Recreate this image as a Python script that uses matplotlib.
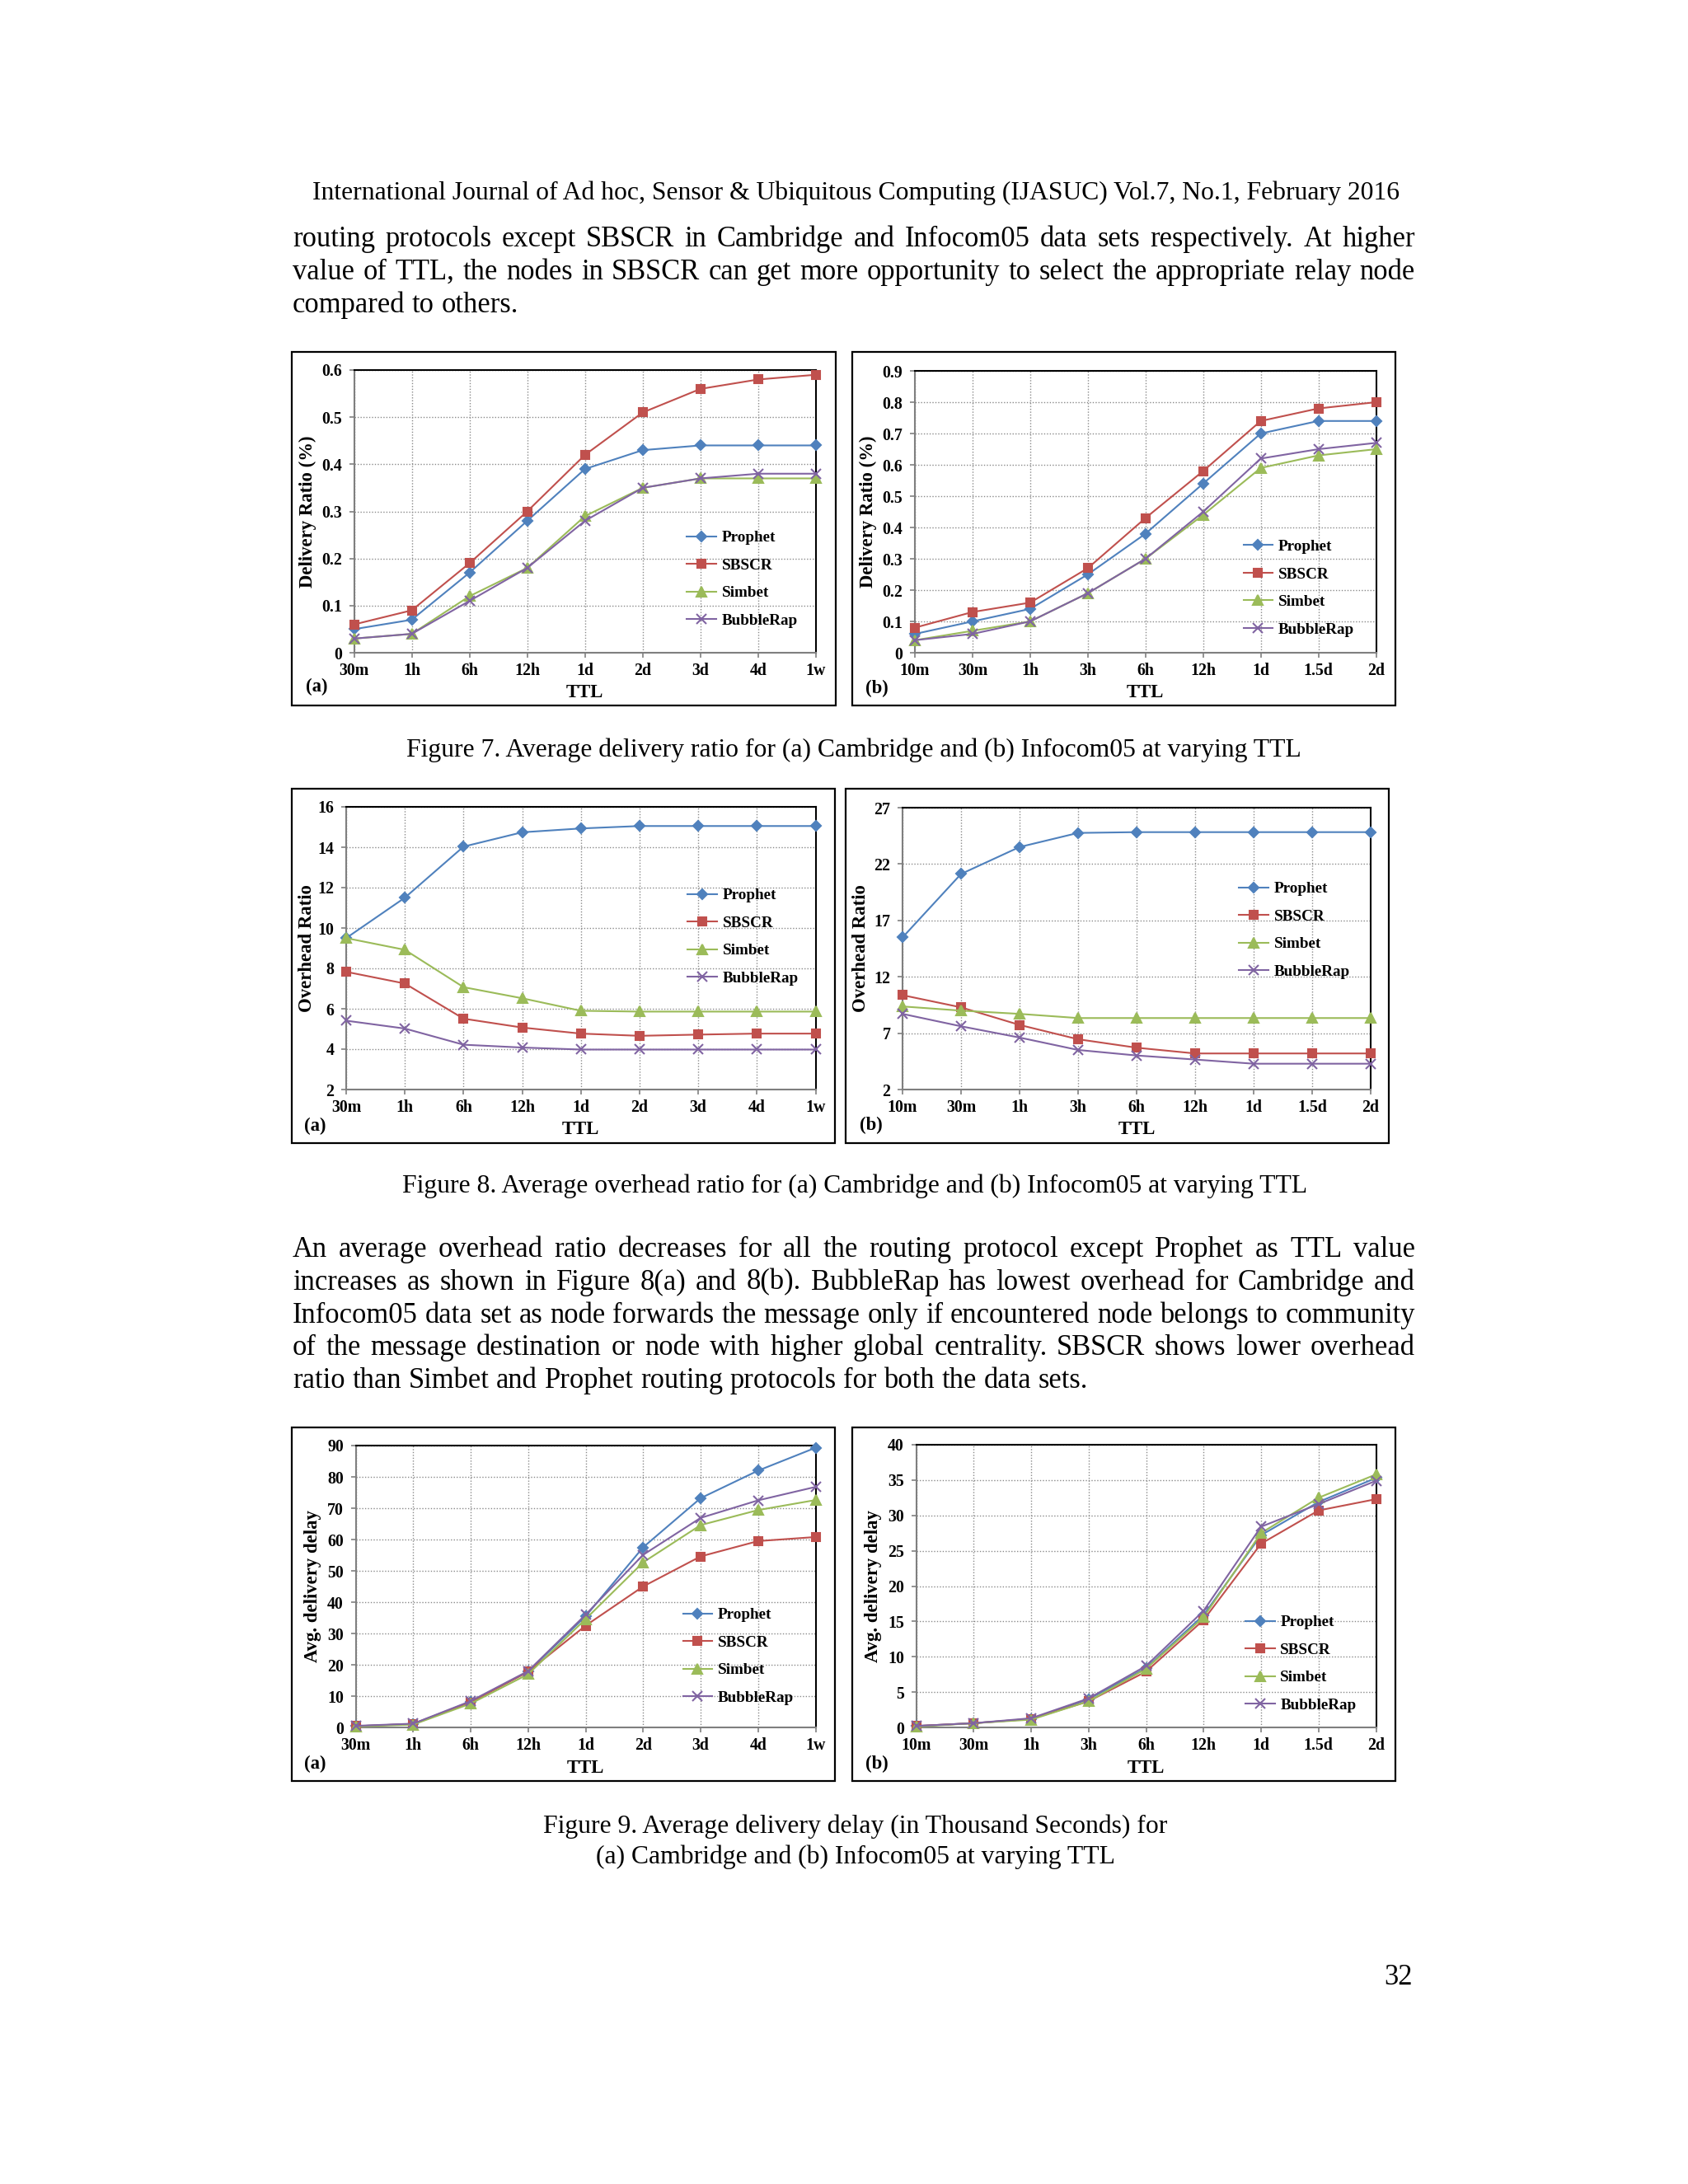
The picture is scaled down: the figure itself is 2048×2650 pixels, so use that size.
import matplotlib
matplotlib.use('Agg')
import matplotlib.pyplot as plt
from matplotlib.patches import Rectangle

plt.rcParams['font.family'] = ['Liberation Serif', 'DejaVu Serif']

# ---------------- data ----------------
series_names = ['Prophet', 'SBSCR', 'Simbet', 'BubbleRap']
ttl_cambridge = ['30m', '1h', '6h', '12h', '1d', '2d', '3d', '4d', '1w']
ttl_infocom = ['10m', '30m', '1h', '3h', '6h', '12h', '1d', '1.5d', '2d']

# Figure 7 (a) delivery ratio Cambridge
dr_cam_prophet = [0.05, 0.07, 0.17, 0.28, 0.39, 0.43, 0.44, 0.44, 0.44]
dr_cam_sbscr = [0.06, 0.09, 0.19, 0.30, 0.42, 0.51, 0.56, 0.58, 0.59]
dr_cam_simbet = [0.03, 0.04, 0.12, 0.18, 0.29, 0.35, 0.37, 0.37, 0.37]
dr_cam_bubble = [0.03, 0.04, 0.11, 0.18, 0.28, 0.35, 0.37, 0.38, 0.38]
# Figure 7 (b) delivery ratio Infocom05
dr_inf_prophet = [0.06, 0.10, 0.14, 0.25, 0.38, 0.54, 0.70, 0.74, 0.74]
dr_inf_sbscr = [0.08, 0.13, 0.16, 0.27, 0.43, 0.58, 0.74, 0.78, 0.80]
dr_inf_simbet = [0.04, 0.07, 0.10, 0.19, 0.30, 0.44, 0.59, 0.63, 0.65]
dr_inf_bubble = [0.04, 0.06, 0.10, 0.19, 0.30, 0.45, 0.62, 0.65, 0.67]
# Figure 8 (a) overhead ratio Cambridge
oh_cam_prophet = [9.5, 11.5, 14.03, 14.74, 14.93, 15.05, 15.05, 15.05, 15.05]
oh_cam_sbscr = [7.83, 7.25, 5.51, 5.07, 4.77, 4.66, 4.72, 4.77, 4.77]
oh_cam_simbet = [9.5, 8.92, 7.07, 6.52, 5.90, 5.86, 5.86, 5.86, 5.86]
oh_cam_bubble = [5.41, 5.02, 4.22, 4.08, 3.98, 3.98, 3.98, 3.98, 3.98]
# Figure 8 (b) overhead ratio Infocom05
oh_inf_prophet = [15.49, 21.12, 23.51, 24.76, 24.83, 24.83, 24.83, 24.83, 24.83]
oh_inf_sbscr = [10.37, 9.29, 7.73, 6.46, 5.71, 5.20, 5.20, 5.20, 5.20]
oh_inf_simbet = [9.37, 9.0, 8.71, 8.34, 8.34, 8.34, 8.34, 8.34, 8.34]
oh_inf_bubble = [8.71, 7.61, 6.61, 5.51, 5.02, 4.66, 4.29, 4.29, 4.29]
# Figure 9 (a) delivery delay Cambridge
dd_cam_prophet = [0.4, 1.1, 8.2, 17.8, 35.5, 57.5, 73.2, 82.0, 89.3]
dd_cam_sbscr = [0.4, 1.1, 8.0, 17.8, 32.5, 45.0, 54.6, 59.5, 60.8]
dd_cam_simbet = [0.3, 0.9, 7.6, 17.0, 34.6, 52.7, 64.6, 69.4, 72.6]
dd_cam_bubble = [0.5, 1.2, 8.4, 18.0, 36.0, 55.1, 66.9, 72.5, 76.8]
# Figure 9 (b) delivery delay Infocom05
dd_inf_prophet = [0.2, 0.6, 1.2, 4.0, 8.4, 15.9, 27.2, 31.9, 35.3]
dd_inf_sbscr = [0.2, 0.6, 1.2, 3.7, 7.9, 15.2, 26.0, 30.7, 32.3]
dd_inf_simbet = [0.1, 0.6, 1.1, 3.7, 8.3, 15.6, 27.5, 32.5, 35.8]
dd_inf_bubble = [0.2, 0.6, 1.3, 4.1, 8.7, 16.5, 28.4, 31.6, 34.9]

# ---------------- page text ----------------
header_text = "International Journal of Ad hoc, Sensor & Ubiquitous Computing (IJASUC) Vol.7, No.1, February 2016"
para1 = ["routing protocols except SBSCR in Cambridge and Infocom05 data sets respectively. At higher",
         "value of TTL, the nodes in SBSCR can get more opportunity to select the appropriate relay node",
         "compared to others."]
para2 = ["An average overhead ratio decreases for all the routing protocol except Prophet as TTL value",
         "increases as shown in Figure 8(a) and 8(b). BubbleRap has lowest overhead for Cambridge and",
         "Infocom05 data set as node forwards the message only if encountered node belongs to community",
         "of the message destination or node with higher global centrality. SBSCR shows lower overhead",
         "ratio than Simbet and Prophet routing protocols for both the data sets."]
cap7 = "Figure 7. Average delivery ratio for (a) Cambridge and (b) Infocom05 at varying TTL"
cap8 = "Figure 8. Average overhead ratio for (a) Cambridge and (b) Infocom05 at varying TTL"
cap9a = "Figure 9. Average delivery delay (in Thousand Seconds) for"
cap9b = "(a) Cambridge and (b) Infocom05 at varying TTL"
page_no = "32"

colors = ['#4F81BD', '#C0504D', '#9BBB59', '#8064A2']
markers = ['D', 's', '^', 'x']
msizes = [6.5, 6.5, 8, 8]

W, H = 2048, 2650
fig = plt.figure(figsize=(W / 100, H / 100), dpi=100)
fig.patch.set_facecolor('white')
renderer = fig.canvas.get_renderer()


def fx(x):
    return x / W


def fy(y):
    return 1 - y / H


def text_width(s, size, weight='normal'):
    t = fig.text(0, 0, s, fontsize=size, weight=weight)
    w = t.get_window_extent(renderer).width
    t.remove()
    return w


def fit_size(s, target, weight='normal'):
    return 24 * target / text_width(s, 24, weight)


L_MARGIN, R_MARGIN = 355, 1717
body_size = fit_size(para2[-1], 965)


def justified_line(line, y, size, justify=True):
    words = line.split(' ')
    widths = [text_width(w, size) for w in words]
    if justify and len(words) > 1:
        gap = (R_MARGIN - L_MARGIN - sum(widths)) / (len(words) - 1)
    else:
        gap = text_width('a b', size) - text_width('ab', size)
    x = L_MARGIN
    for w, wd in zip(words, widths):
        fig.text(fx(x), fy(y), w, fontsize=size, va='baseline', ha='left')
        x += wd + gap


# header
hs = fit_size(header_text, 1322)
fig.text(fx(1039), fy(242), header_text, fontsize=hs, ha='center', va='baseline')

for i, ln in enumerate(para1):
    justified_line(ln, 299 + 40 * i, body_size, justify=(i < len(para1) - 1))
for i, ln in enumerate(para2):
    justified_line(ln, 1525 + 39.8 * i, body_size, justify=(i < len(para2) - 1))

fig.text(fx(1036), fy(918), cap7, fontsize=fit_size(cap7, 1086), ha='center', va='baseline')
fig.text(fx(1037), fy(1447), cap8, fontsize=fit_size(cap8, 1100), ha='center', va='baseline')
c9s = fit_size(cap9a, 758)
fig.text(fx(1038), fy(2224), cap9a, fontsize=c9s, ha='center', va='baseline')
fig.text(fx(1038), fy(2261), cap9b, fontsize=c9s, ha='center', va='baseline')
fig.text(fx(1714), fy(2408), page_no, fontsize=body_size, ha='right', va='baseline')


def draw_chart(box, plot, xlabels, series, ylim, yticks, ylabel, ylabel_x,
               tag, tag_xy, ttl_y, leg_xy):
    bl, bt, br, bb = box
    fig.patches.append(Rectangle((fx(bl), fy(bb)), (br - bl) / W, (bb - bt) / H,
                                 transform=fig.transFigure, fill=False,
                                 edgecolor='black', lw=1.6))
    pl, pt, pr, pb = plot
    ax = fig.add_axes([fx(pl), fy(pb), (pr - pl) / W, (pb - pt) / H])
    xs = list(range(len(xlabels)))
    handles = []
    for vals, name, c, m, ms in zip(series, series_names, colors, markers, msizes):
        h, = ax.plot(xs, vals, color=c, lw=1.5, marker=m, ms=ms,
                     markerfacecolor=c, markeredgecolor=c, mew=1.5,
                     clip_on=False, zorder=3, label=name)
        handles.append(h)
    ax.set_xlim(0, len(xlabels) - 1)
    ax.set_ylim(*ylim)
    ax.set_xticks(xs)
    ax.set_xticklabels(xlabels, fontweight='bold', fontsize=14.3)
    ax.set_yticks(yticks)
    ax.set_yticklabels(['%g' % round(v, 3) for v in yticks], fontweight='bold', fontsize=14.3)
    ax.grid(True, ls=(0, (1, 1.5)), color='#8a8a8a', lw=1.0)
    ax.set_axisbelow(True)
    ax.tick_params(axis='both', direction='out', length=4, width=1.2, color='#808080')
    ax.tick_params(axis='y', pad=6.5)
    ax.tick_params(axis='x', pad=4.5)
    for s in ['left', 'bottom']:
        ax.spines[s].set_color('#7f7f7f')
        ax.spines[s].set_linewidth(1.5)
    for s in ['top', 'right']:
        ax.spines[s].set_color('black')
        ax.spines[s].set_linewidth(1.5)
    cy = (pt + pb) / 2
    fig.text(fx(ylabel_x), fy(cy), ylabel, rotation=90, fontsize=16.4,
             fontweight='bold', ha='center', va='center')
    fig.text(fx((pl + pr) / 2), fy(ttl_y), 'TTL', fontsize=16.4,
             fontweight='bold', ha='center', va='center')
    fig.text(fx(tag_xy[0]), fy(tag_xy[1]), tag, fontsize=16.4,
             fontweight='bold', ha='center', va='center')
    ax.legend(handles=handles, loc='upper left',
              bbox_to_anchor=(fx(leg_xy[0]), fy(leg_xy[1] - 7)),
              bbox_transform=fig.transFigure, frameon=False, borderpad=0,
              borderaxespad=0, handlelength=1.87, handletextpad=0.35,
              labelspacing=0.84, numpoints=1,
              prop={'weight': 'bold', 'size': 13.8})
    return ax


draw_chart((354, 427, 1014, 856), (429.5, 449, 990, 792), ttl_cambridge,
           [dr_cam_prophet, dr_cam_sbscr, dr_cam_simbet, dr_cam_bubble],
           (0, 0.6), [0, 0.1, 0.2, 0.3, 0.4, 0.5, 0.6], 'Delivery Ratio (%)', 373.6,
           '(a)', (384, 833), 840.7, (833, 651))
draw_chart((1034, 427, 1693, 856), (1110, 450, 1669.5, 792), ttl_infocom,
           [dr_inf_prophet, dr_inf_sbscr, dr_inf_simbet, dr_inf_bubble],
           (0, 0.9), [0, 0.1, 0.2, 0.3, 0.4, 0.5, 0.6, 0.7, 0.8, 0.9], 'Delivery Ratio (%)', 1053,
           '(b)', (1064, 835), 840.7, (1508.5, 661.7))
draw_chart((354, 957, 1013, 1387), (420, 979, 989.5, 1322), ttl_cambridge,
           [oh_cam_prophet, oh_cam_sbscr, oh_cam_simbet, oh_cam_bubble],
           (2, 16), [2, 4, 6, 8, 10, 12, 14, 16], 'Overhead Ratio', 372,
           '(a)', (382, 1366.7), 1370.7, (834, 1085))
draw_chart((1026, 957, 1685, 1387), (1095, 980, 1663, 1322), ttl_infocom,
           [oh_inf_prophet, oh_inf_sbscr, oh_inf_simbet, oh_inf_bubble],
           (2, 27), [2, 7, 12, 17, 22, 27], 'Overhead Ratio', 1044,
           '(b)', (1056.5, 1365), 1370.7, (1503, 1077))
draw_chart((354, 1732, 1013, 2161), (431.5, 1754, 989.5, 2096), ttl_cambridge,
           [dd_cam_prophet, dd_cam_sbscr, dd_cam_simbet, dd_cam_bubble],
           (0, 90), list(range(0, 91, 10)), 'Avg. delivery delay', 379,
           '(a)', (382, 2140), 2145.7, (828.5, 1958))
draw_chart((1034, 1732, 1693, 2161), (1111.5, 1753, 1669.5, 2096), ttl_infocom,
           [dd_inf_prophet, dd_inf_sbscr, dd_inf_simbet, dd_inf_bubble],
           (0, 40), list(range(0, 41, 5)), 'Avg. delivery delay', 1059,
           '(b)', (1064, 2140), 2145.7, (1510.7, 1967))

fig.savefig('out.png', dpi=100, facecolor='white')
